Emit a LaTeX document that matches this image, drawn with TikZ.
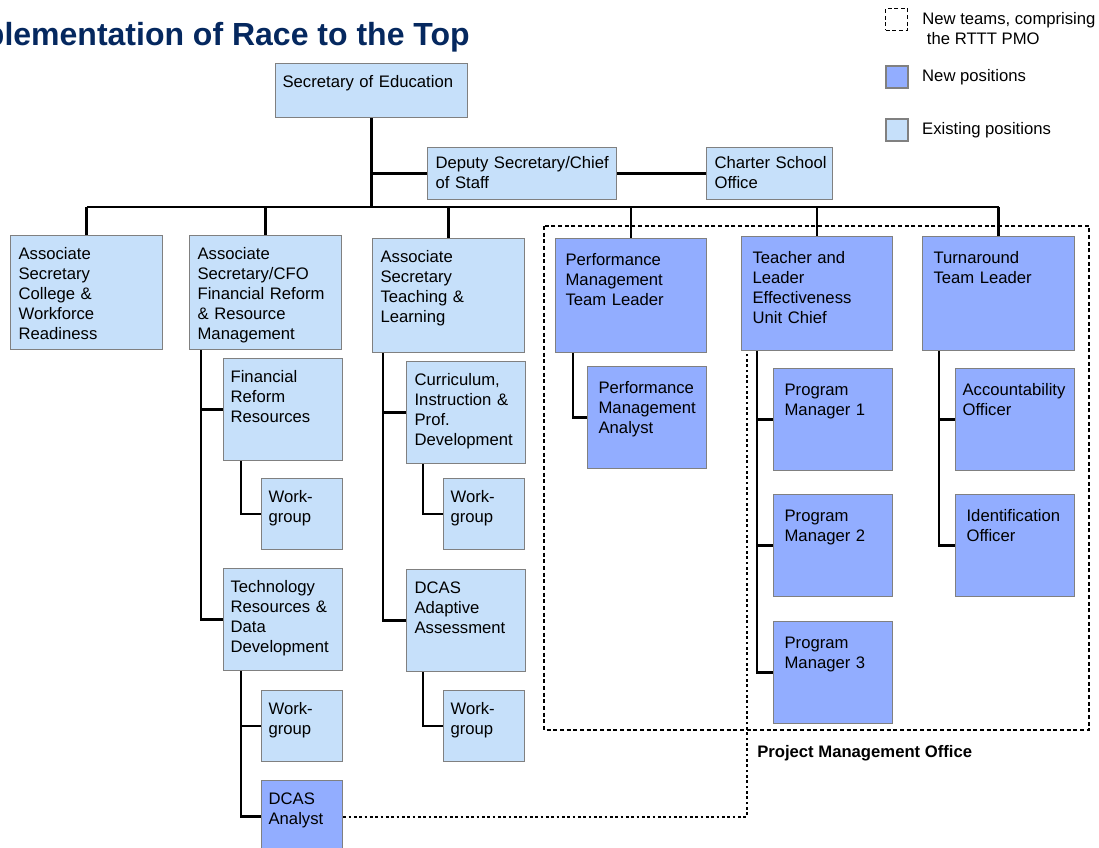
\documentclass[tikz,border=0pt]{standalone}
\usepackage{fontspec}
\setmainfont{Liberation Sans}
\usetikzlibrary{positioning}
\definecolor{oldblue}{RGB}{198,224,250}
\definecolor{newblue}{RGB}{146,173,255}
\definecolor{boxgray}{RGB}{128,128,128}
\definecolor{rttnavy}{RGB}{5,40,95}
\hyphenpenalty=10000
\exhyphenpenalty=10000

\begin{document}
\begin{tikzpicture}[
    x=0.75pt, y=-0.75pt,
    headroom/.initial=17.75pt,
    posbox/.style={draw=boxgray, line width=0.9pt, anchor=north west, align=left, inner ysep=0pt, font=\fontsize{12.5}{15}\selectfont},
    old/.style={posbox, fill=oldblue, headroom=17.75pt},
    new/.style={posbox, fill=newblue, headroom=20.5pt},
    dims/.style n args={3}{text width=(#1-2*#3)*0.75pt, inner xsep=#3*0.75pt,
      text height=\pgfkeysvalueof{/tikz/headroom}, text depth=#2*0.75pt-\pgfkeysvalueof{/tikz/headroom}},
    link/.style={line width=2pt, black},
    pmo/.style={line width=0.9pt, dash pattern=on 3pt off 2pt},
    dotlink/.style={line width=1.5pt, dash pattern=on 2pt off 2pt},
    legbox/.style={draw=boxgray, line width=0.9pt, minimum size=16.5pt, inner sep=0pt},
    legtext/.style={inner sep=0pt, align=left, font=\fontsize{12.5}{15}\selectfont},
    title/.style={inner sep=0pt, text=rttnavy, font=\bfseries\fontsize{24}{28}\selectfont}
  ]
    \useasboundingbox (0,0) rectangle (1099,848);

    \node[title, anchor=base east] (title) at (470,46) {Implementation of Race to the Top};

    % legend
    \node[legbox, draw=black, pmo, line width=0.8pt] (leg1) at (896.5,19.5) {};
    \node[legtext, right=10.5pt of leg1.north east, anchor=north west, yshift=-3.25pt] (leg1t) {New teams, comprising\\\hspace*{3.5pt}the RTTT PMO};
    \node[legbox, fill=newblue] (leg2) at (897,77) {};
    \node[legtext, right=10pt of leg2] (leg2t) {New positions};
    \node[legbox, fill=oldblue] (leg3) at (897,130) {};
    \node[legtext, right=10pt of leg3] (leg3t) {Existing positions};

    % top of the office
    \node[old, dims={192}{54}{7}] (sec) at (275,63) {Secretary of Education};
    \node[old, headroom=15.5pt, dims={189}{52}{8}] (dep) at (427,147) {Deputy~Secretary/Chief\\of Staff};
    \node[old, headroom=15.5pt, dims={126}{52}{8}] (chart) at (706,147) {Charter~School\\Office};
    \coordinate (bus) at (0,207);

    % second level
    \node[old, dims={152}{114}{8}] (cwr) at (10,235) {Associate\\Secretary\\College \&\\Workforce\\Readiness};
    \node[old, dims={152}{114}{8}] (cfo) at (189,235) {Associate\\Secretary/CFO\\Financial Reform\\\& Resource\\Management};
    \node[old, dims={152}{114}{8}] (tl) at (372,238) {Associate\\Secretary\\Teaching \&\\Learning};
    \node[new, dims={151}{114}{10}] (pmtl) at (555,238) {Performance\\Management\\Team Leader};
    \node[new, dims={151}{114}{11}] (tle) at (741,236) {Teacher and\\Leader\\Effectiveness\\Unit Chief};
    \node[new, dims={152}{114}{11}] (tat) at (922,236) {Turnaround\\Team Leader};

    % finance branch
    \node[old, dims={119}{102}{7}] (fin) at (223,358) {Financial\\Reform\\Resources};
    \node[old, dims={81}{71}{7}] (wg1) at (261,478) {Work-\\group};
    \node[old, dims={119}{102}{7}] (tech) at (223,568) {Technology\\Resources \&\\Data\\Development};
    \node[old, dims={81}{71}{7}] (wg2) at (261,690) {Work-\\group};
    \node[new, headroom=17.75pt, dims={81}{72}{7}] (dcas) at (261,780) {DCAS\\Analyst};

    % teaching branch
    \node[old, dims={119}{102}{8}] (cur) at (406,361) {Curriculum,\\Instruction \&\\Prof.\\Development};
    \node[old, dims={81}{71}{7}] (wg3) at (443,478) {Work-\\group};
    \node[old, dims={119}{102}{8}] (ada) at (406,569) {DCAS\\Adaptive\\Assessment};
    \node[old, dims={81}{71}{7}] (wg4) at (443,690) {Work-\\group};

    % PMO teams
    \node[new, dims={119}{102}{11}] (pma) at (587,366) {Performance\\Management\\Analyst};
    \node[new, dims={119}{102}{11}] (pm1) at (773,368) {Program\\Manager 1};
    \node[new, dims={119}{102}{11}] (pm2) at (773,494) {Program\\Manager 2};
    \node[new, dims={119}{102}{11}] (pm3) at (773,621) {Program\\Manager 3};
    \node[new, dims={119}{102}{7}] (acc) at (955,368) {Accountability\\Officer};
    \node[new, dims={119}{102}{11}] (ido) at (955,494) {Identification\\Officer};

    \draw[pmo] (544,226) rectangle (1089,730);
    \node[inner sep=0pt, anchor=west, font=\bfseries\fontsize{12.5}{15}\selectfont] (pmolabel) at (757,753) {Project Management Office};

    % reporting lines
    \draw[link] (sec.south) -- (sec.south |- bus);
    \draw[link] (sec.south |- dep.west) -- (dep.west);
    \draw[link] (dep.east) -- (chart.west);
    \draw[link] (cwr.north |- bus) -- (tat.north |- bus);
    \foreach \n in {cwr,cfo,tl,pmtl,tle,tat}
      \draw[link] (\n.north |- bus) -- (\n.north);

    \draw[link] ([xshift=9pt]cfo.south west) |- (fin.west);
    \draw[link] ([xshift=9pt]cfo.south west) |- (tech.west);
    \draw[link] ([xshift=13.5pt]fin.south west) |- (wg1.west);
    \draw[link] ([xshift=13.5pt]tech.south west) |- (wg2.west);
    \draw[link] ([xshift=13.5pt]tech.south west) |- (dcas.west);

    \draw[link] ([xshift=8.25pt]tl.south west) |- (cur.west);
    \draw[link] ([xshift=8.25pt]tl.south west) |- (ada.west);
    \draw[link] ([xshift=12.75pt]cur.south west) |- (wg3.west);
    \draw[link] ([xshift=12.75pt]ada.south west) |- (wg4.west);

    \draw[link] ([xshift=13.5pt]pmtl.south west) |- (pma.west);
    \foreach \n in {pm1,pm2,pm3}
      \draw[link] ([xshift=12pt]tle.south west) |- (\n.west);
    \foreach \n in {acc,ido}
      \draw[link] ([xshift=12.75pt]tat.south west) |- (\n.west);

    % dotted line to the PMO
    \draw[dotlink] (dcas.east) -| ([xshift=4.5pt]tle.south west);
\end{tikzpicture}
\end{document}
